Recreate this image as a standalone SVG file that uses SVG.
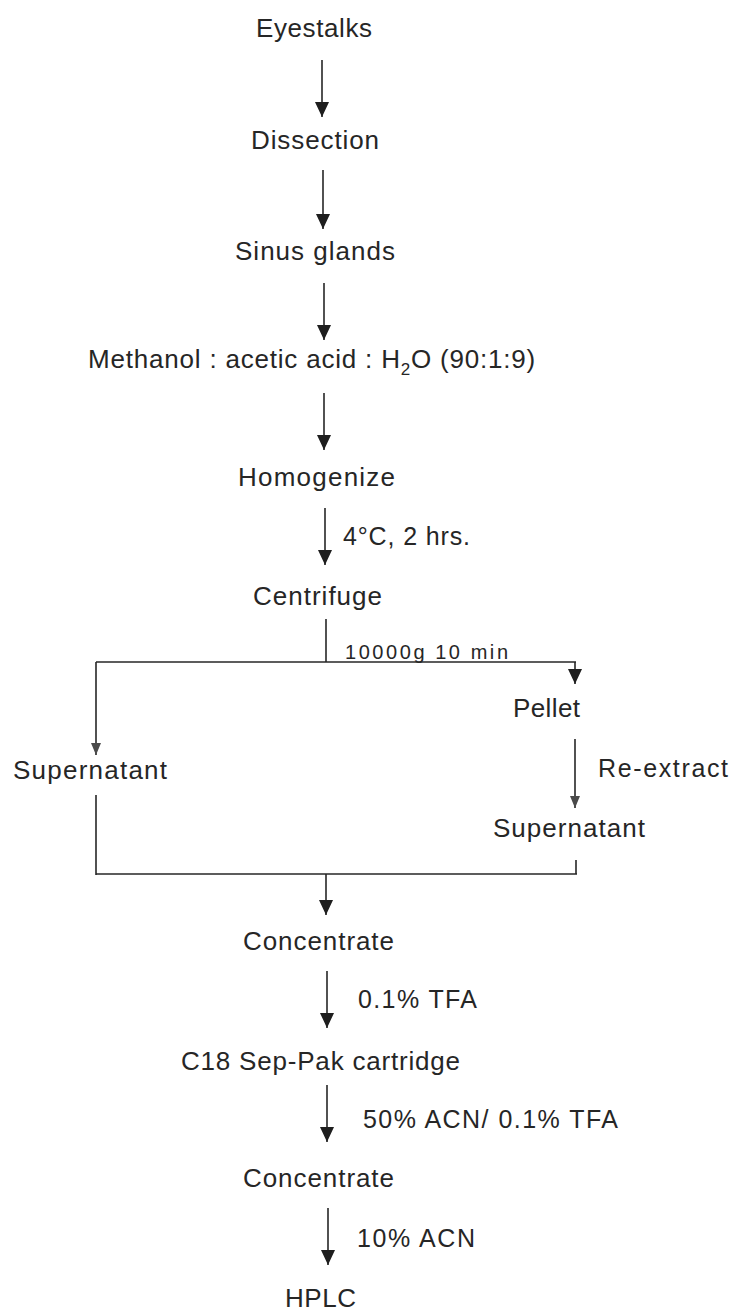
<svg xmlns="http://www.w3.org/2000/svg" width="737" height="1311" viewBox="0 0 737 1311">
<style>
.t{font-family:"Liberation Sans",Arial,sans-serif;font-size:26px;fill:#262626;}
.l{font-family:"Liberation Sans",Arial,sans-serif;font-size:25px;fill:#262626;}
.s{font-family:"Liberation Sans",Arial,sans-serif;font-size:20px;fill:#262626;}
.c{stroke:#262626;stroke-width:1.6;fill:none;}
.a{marker-end:url(#ah);}
.b{marker-end:url(#sh);}
</style>
<defs>
<marker id="ah" markerUnits="userSpaceOnUse" markerWidth="15" markerHeight="14" refX="15" refY="7" orient="auto">
<path d="M0,0 L15,7 L0,14 z" fill="#1e1e1e"/>
</marker>
<marker id="sh" markerUnits="userSpaceOnUse" markerWidth="12" markerHeight="10" refX="12" refY="5" orient="auto">
<path d="M0,0 L12,5 L0,10 z" fill="#4a4a4a"/>
</marker>
</defs>
<rect width="737" height="1311" fill="#ffffff"/>
<g id="connectors">
<line class="c a" x1="322" y1="60" x2="322" y2="117"/>
<line class="c a" x1="323" y1="170" x2="323" y2="229"/>
<line class="c a" x1="324" y1="283" x2="324" y2="340"/>
<line class="c a" x1="324" y1="393" x2="324" y2="450"/>
<line class="c a" x1="325" y1="508" x2="325" y2="565"/>
<line class="c" x1="326" y1="619" x2="326" y2="662"/>
<line class="c" x1="96" y1="662" x2="576" y2="662"/>
<line class="c b" x1="96" y1="662" x2="96" y2="755"/>
<line class="c a" x1="575" y1="662" x2="575" y2="684"/>
<line class="c b" x1="575" y1="739" x2="575" y2="808"/>
<line class="c" x1="96" y1="795" x2="96" y2="875"/>
<line class="c" x1="576" y1="860" x2="576" y2="874"/>
<line class="c" x1="96" y1="874" x2="577" y2="874"/>
<line class="c a" x1="326" y1="874" x2="326" y2="915"/>
<line class="c a" x1="327" y1="971" x2="327" y2="1028"/>
<line class="c a" x1="327" y1="1085" x2="327" y2="1142"/>
<line class="c a" x1="328" y1="1208" x2="328" y2="1265"/>
<text class="l" x="343" y="545" textLength="127" lengthAdjust="spacing">4°C, 2 hrs.</text>
<text class="s" x="345" y="659" textLength="163" lengthAdjust="spacing">10000g  10 min</text>
<text class="l" x="598" y="777" textLength="130" lengthAdjust="spacing">Re-extract</text>
<text class="l" x="358" y="1008" textLength="119" lengthAdjust="spacing">0.1% TFA</text>
<text class="l" x="363" y="1128" textLength="255" lengthAdjust="spacing">50% ACN/ 0.1% TFA</text>
<text class="l" x="357" y="1247" textLength="118" lengthAdjust="spacing">10% ACN</text>
</g>
<g id="n-eyestalks"><text class="t" x="256" y="37" textLength="116" lengthAdjust="spacing">Eyestalks</text></g>
<g id="n-dissection"><text class="t" x="251" y="149" textLength="128" lengthAdjust="spacing">Dissection</text></g>
<g id="n-sinus"><text class="t" x="235" y="260" textLength="160" lengthAdjust="spacing">Sinus glands</text></g>
<g id="n-methanol"><text class="t" x="88" y="368" letter-spacing="0.8">Methanol : acetic acid : H<tspan font-size="17" dy="7">2</tspan><tspan dy="-7">O (90:1:9)</tspan></text></g>
<g id="n-homogenize"><text class="t" x="238" y="486" textLength="157" lengthAdjust="spacing">Homogenize</text></g>
<g id="n-centrifuge"><text class="t" x="253" y="605" textLength="129" lengthAdjust="spacing">Centrifuge</text></g>
<g id="n-pellet"><text class="t" x="513" y="717" textLength="67" lengthAdjust="spacing">Pellet</text></g>
<g id="n-supernatant-left"><text class="t" x="13" y="779" textLength="154" lengthAdjust="spacing">Supernatant</text></g>
<g id="n-supernatant-right"><text class="t" x="493" y="837" textLength="152" lengthAdjust="spacing">Supernatant</text></g>
<g id="n-concentrate1"><text class="t" x="243" y="950" textLength="151" lengthAdjust="spacing">Concentrate</text></g>
<g id="n-c18"><text class="t" x="181" y="1070" textLength="279" lengthAdjust="spacing">C18 Sep-Pak cartridge</text></g>
<g id="n-concentrate2"><text class="t" x="243" y="1187" textLength="151" lengthAdjust="spacing">Concentrate</text></g>
<g id="n-hplc"><text class="t" x="285" y="1307" textLength="71" lengthAdjust="spacing">HPLC</text></g>
</svg>
